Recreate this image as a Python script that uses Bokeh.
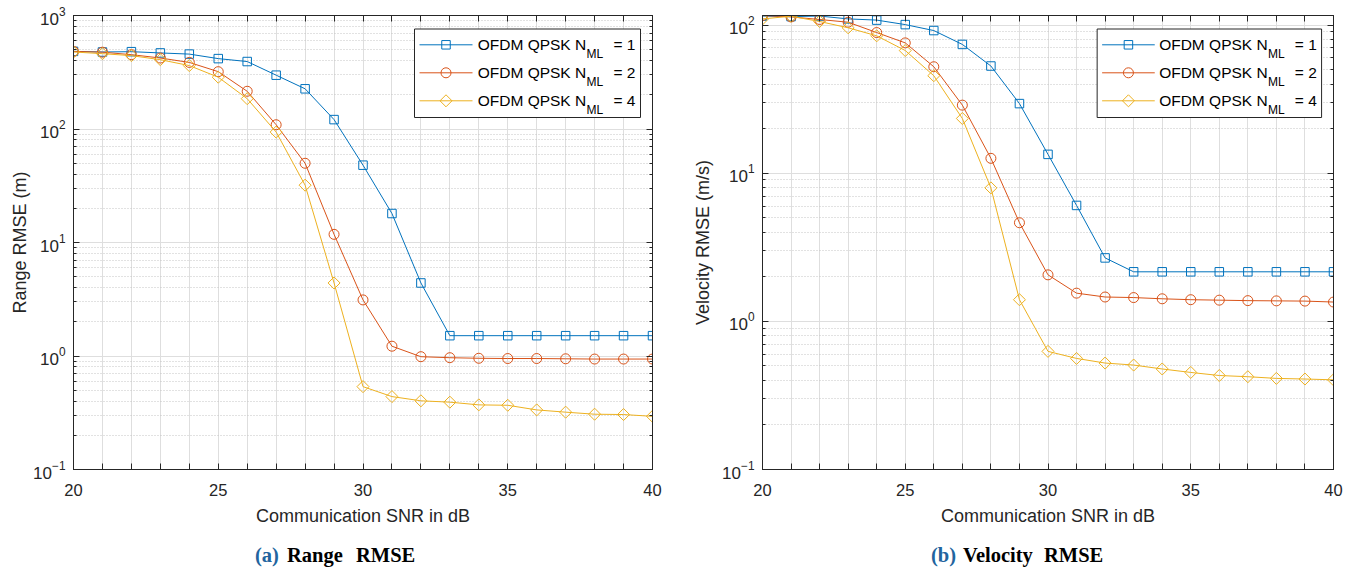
import numpy as np
from bokeh.plotting import figure
from bokeh.models import (LogAxis, LinearAxis, SingleIntervalTicker, LogTicker, LinearScale,
                          CustomJSTickFormatter, Range1d, Div)
from bokeh.core.properties import value
from bokeh.layouts import row, column
from bokeh.embed import file_html
from bokeh.resources import INLINE

# ---------------- data ----------------
snr = [20, 21, 22, 23, 24, 25, 26, 27, 28, 29, 30, 31, 32, 33, 34, 35, 36, 37, 38, 39, 40]

range_n1 = [483, 477, 480, 468, 457, 417, 393, 298, 226, 121, 48, 18, 4.4,
            1.51, 1.51, 1.51, 1.51, 1.51, 1.51, 1.51, 1.51]
range_n2 = [483, 475, 452, 422, 386, 320, 215, 109, 49.9, 11.8, 3.12, 1.22, 0.986,
            0.966, 0.955, 0.95, 0.95, 0.945, 0.94, 0.94, 0.94]
range_n4 = [477, 461, 443, 408, 362, 286, 185, 94, 32, 4.4, 0.537, 0.439, 0.403,
            0.392, 0.371, 0.368, 0.335, 0.32, 0.307, 0.305, 0.294]

vel_n1 = [115, 114, 115, 110, 108, 100.7, 91.8, 74, 52.9, 29.5, 13.4, 6.06, 2.68,
          2.16, 2.16, 2.16, 2.16, 2.16, 2.16, 2.16, 2.16]
vel_n2 = [116, 113.5, 109, 104.5, 89, 75.8, 52.3, 28.8, 12.6, 4.63, 2.06, 1.55, 1.46,
          1.447, 1.42, 1.40, 1.39, 1.38, 1.375, 1.37, 1.35]
vel_n4 = [110, 114.7, 105.7, 95.8, 84.6, 67.3, 45.5, 23.4, 7.96, 1.40, 0.627, 0.562, 0.523,
          0.507, 0.477, 0.452, 0.431, 0.423, 0.412, 0.408, 0.403]

series_names = ["1", "2", "4"]
colors = ["#0072BD", "#D95319", "#EDB120"]

x_label = "Communication SNR in dB"
y_labels = ["Range RMSE (m)", "Velocity RMSE (m/s)"]
captions = [("(a)", "Range", "RMSE"), ("(b)", "Velocity", "RMSE")]

FONT = "Liberation Sans"
SERIF = "Liberation Serif"
AX = "#262626"
H = 572
PH = 535          # height of the plot row; captions below
FH = 454

MARKERS = [dict(marker="square", size=8.5, angle=0.0),
           dict(marker="circle", size=10, angle=0.0),
           dict(marker="square", size=8.5, angle=np.pi / 4)]


def make(width, bl, br, ymax, ylabel, ys, ylab_standoff):
    p = figure(width=width, height=PH, y_axis_type="log",
               x_range=Range1d(20, 40), y_range=Range1d(0.1, ymax),
               output_backend="svg", toolbar_location=None,
               min_border_left=bl, min_border_right=br,
               min_border_top=15, min_border_bottom=PH - 15 - FH)
    fw = width - bl - br
    p.background_fill_color = "white"
    p.border_fill_color = "white"
    p.outline_line_color = AX
    p.outline_line_width = 1

    # pixel-based helper ranges for the legend box (frame pixels)
    p.extra_x_ranges = {"leg": Range1d(0, fw)}
    p.extra_y_ranges = {"leg": Range1d(0, FH)}
    p.extra_x_scales = {"leg": LinearScale()}
    p.extra_y_scales = {"leg": LinearScale()}

    xt = SingleIntervalTicker(interval=1, num_minor_ticks=0)
    xf = CustomJSTickFormatter(code="return (Math.round(tick) % 5 == 0) ? tick.toFixed(0) : '';")
    xa = p.xaxis[0]
    xa.ticker = xt
    xa.formatter = xf
    xa.axis_label = x_label
    ya = p.yaxis[0]
    ya.ticker = LogTicker(num_minor_ticks=10)
    ya.axis_label = ylabel
    for ax in (xa, ya):
        ax.axis_line_color = AX
        ax.major_tick_line_color = AX
        ax.minor_tick_line_color = AX
        ax.major_tick_out = 0
        ax.minor_tick_out = 0
        ax.major_tick_in = 6
        ax.minor_tick_in = 3
        ax.major_label_text_font = FONT
        ax.major_label_text_font_size = "16.5px"
        ax.major_label_text_color = AX
        ax.axis_label_text_font = FONT
        ax.axis_label_text_font_size = "18px"
        ax.axis_label_text_font_style = "normal"
        ax.axis_label_text_color = AX
    ya.major_label_text_font_size = "17px"
    xa.major_label_standoff = 14
    xa.axis_label_standoff = 7
    ya.major_label_standoff = 8
    ya.axis_label_standoff = ylab_standoff

    blank = CustomJSTickFormatter(code="return '';")
    top = LinearAxis(ticker=xt, formatter=blank)
    right = LogAxis(ticker=LogTicker(num_minor_ticks=10), formatter=blank)
    for ax in (top, right):
        ax.axis_line_color = AX
        ax.major_tick_line_color = AX
        ax.minor_tick_line_color = AX
        ax.major_tick_out = 0
        ax.minor_tick_out = 0
        ax.major_tick_in = 6
        ax.minor_tick_in = 3
        ax.major_label_standoff = 0
        ax.major_label_text_font_size = "1px"
    p.add_layout(top, "above")
    p.add_layout(right, "right")

    p.xgrid.grid_line_color = "#dedede"
    p.xgrid.grid_line_width = 1
    p.ygrid.grid_line_color = "#dedede"
    p.ygrid.minor_grid_line_color = "#c4c4c4"
    p.ygrid.minor_grid_line_dash = "1 2"

    for yv, c, m in zip(ys, colors, MARKERS):
        p.line(snr, yv, line_color=c, line_width=1)
        p.scatter(snr, yv, marker=m["marker"], size=m["size"], angle=m["angle"],
                  line_color=c, fill_color=None, line_width=1)

    # ---- legend (drawn in frame-pixel coordinates) ----
    L, R = fw - 238, fw - 12
    T, B = FH - 13.5, FH - 102
    kw = dict(x_range_name="leg", y_range_name="leg")
    p.quad(left=[L], right=[R], top=[T], bottom=[B], fill_color="white",
           line_color=AX, line_width=1, **kw)
    for i, (name, c, m) in enumerate(zip(series_names, colors, MARKERS)):
        yc = FH - (29.3 + 28 * i)
        p.segment(x0=[fw - 233], y0=[yc], x1=[fw - 180], y1=[yc], line_color=c,
                  line_width=1, **kw)
        p.scatter(x=[fw - 206.5], y=[yc], marker=m["marker"], size=m["size"],
                  angle=m["angle"], line_color=c, fill_color=None, line_width=1, **kw)
        p.text(x=[fw - 66.3], y=[yc], text=["OFDM QPSK N"], text_align="right",
               text_baseline="middle", text_font=value(FONT), text_font_size="15.5px",
               text_color="black", **kw)
        p.text(x=[fw - 66], y=[yc - 9.5], text=["ML"], text_align="left",
               text_baseline="middle", text_font=value(FONT), text_font_size="12px",
               text_color="black", **kw)
        p.text(x=[fw - 39], y=[yc], text=["= " + name], text_align="left",
               text_baseline="middle", text_font=value(FONT), text_font_size="15.5px",
               text_color="black", **kw)
    return p


def caption_div(width, cap, xs):
    tag, w1, w2 = cap
    x0, x1, x2 = xs
    base = ("position:absolute;top:9px;white-space:nowrap;line-height:23px;"
            "font-family:'Liberation Serif',serif;font-weight:bold;font-size:20.5px;")
    html = (f'<div style="position:relative;width:{width}px;height:{H - PH}px;">'
            f'<span style="{base}left:{x0}px;color:#22649e;">{tag}</span>'
            f'<span style="{base}left:{x1}px;color:black;">{w1}</span>'
            f'<span style="{base}left:{x2}px;color:black;">{w2}</span></div>')
    return Div(text=html, width=width, height=H - PH, margin=0)


p1 = make(690, 73, 38, 1000, y_labels[0], [range_n1, range_n2, range_n4], 0)
p2 = make(669, 68, 26, 116, y_labels[1], [vel_n1, vel_n2, vel_n4], 6)

d1 = caption_div(690, captions[0], (255, 287, 356))
d2 = caption_div(669, captions[1], (931 - 690, 963 - 690, 1044 - 690))

layout = column(row(p1, p2), row(d1, d2))
open("out.html", "w").write(file_html(layout, INLINE))
